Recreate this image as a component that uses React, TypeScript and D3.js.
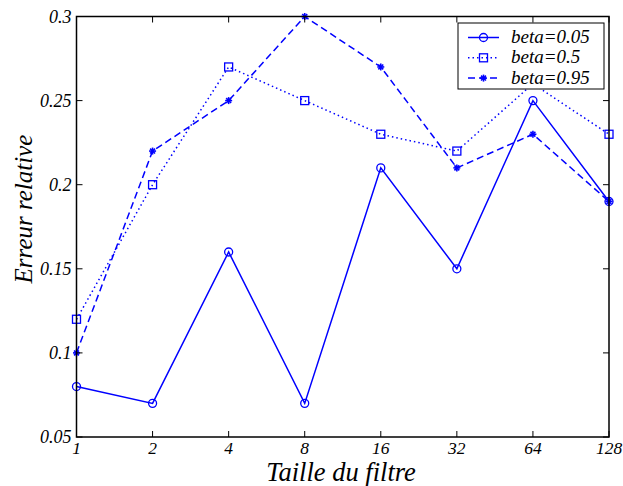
import React from "react";
import * as d3 from "d3";

const categories = ["1", "2", "4", "8", "16", "32", "64", "128"];
const beta005 = [0.08, 0.07, 0.16, 0.07, 0.21, 0.15, 0.25, 0.19];
const beta05 = [0.12, 0.2, 0.27, 0.25, 0.23, 0.22, 0.26, 0.23];
const beta095 = [0.1, 0.22, 0.25, 0.3, 0.27, 0.21, 0.23, 0.19];
const yTicks = [0.05, 0.1, 0.15, 0.2, 0.25, 0.3];
const yTickLabels = ["0.05", "0.1", "0.15", "0.2", "0.25", "0.3"];
const seriesNames = ["beta=0.05", "beta=0.5", "beta=0.95"];

const W = 623, H = 486;
const L = 76.5, R = 609, T = 16.5, B = 437;
const BLUE = "#0000ff";
const FONT = "'Liberation Serif', 'Times New Roman', serif";

export default function App() {
  const x = d3.scalePoint<string>().domain(categories).range([L, R]);
  const y = d3.scaleLinear().domain([0.05, 0.3]).range([B, T]);
  const line = (vals: number[]) =>
    d3.line<number>().x((_, i) => x(categories[i])!).y((v) => y(v))(vals)!;

  const series = [
    { name: seriesNames[0], vals: beta005, dash: "none", marker: "circle" },
    { name: seriesNames[1], vals: beta05, dash: "1.5 3", marker: "square" },
    { name: seriesNames[2], vals: beta095, dash: "7 4", marker: "star" },
  ];

  const marker = (m: string, cx: number, cy: number, key: any) => {
    if (m === "circle")
      return <circle key={key} cx={cx} cy={cy} r={4} fill="none" stroke={BLUE} strokeWidth={1.3} />;
    if (m === "square")
      return <rect key={key} x={cx - 4} y={cy - 4} width={8} height={8} fill="none" stroke={BLUE} strokeWidth={1.3} />;
    const s = 3.5;
    return (
      <g key={key} stroke={BLUE} strokeWidth={1.6}>
        <line x1={cx - s} y1={cy} x2={cx + s} y2={cy} />
        <line x1={cx} y1={cy - s} x2={cx} y2={cy + s} />
        <line x1={cx - s * 0.7} y1={cy - s * 0.7} x2={cx + s * 0.7} y2={cy + s * 0.7} />
        <line x1={cx - s * 0.7} y1={cy + s * 0.7} x2={cx + s * 0.7} y2={cy - s * 0.7} />
      </g>
    );
  };

  const lx = 458, ly = 23, lw = 146, lh = 66;

  return (
    <svg width={W} height={H} style={{ position: "absolute", left: 0, top: 0, background: "#fff" }}>
      <rect x={0} y={0} width={W} height={H} fill="#fff" />
      {series.map((s, si) => (
        <g key={si}>
          <path d={line(s.vals)} fill="none" stroke={BLUE} strokeWidth={1.5} strokeDasharray={s.dash} />
          {s.vals.map((v, i) => marker(s.marker, x(categories[i])!, y(v), i))}
        </g>
      ))}
      <rect x={L} y={T} width={R - L} height={B - T} fill="none" stroke="#000" strokeWidth={1.5} />
      {categories.map((c) => (
        <g key={c}>
          <line x1={x(c)} x2={x(c)} y1={B} y2={B - 6} stroke="#000" strokeWidth={1} />
          <line x1={x(c)} x2={x(c)} y1={T} y2={T + 6} stroke="#000" strokeWidth={1} />
          <text x={x(c)} y={B + 17} textAnchor="middle" fontFamily={FONT} fontStyle="italic" fontSize={17.5}>{c}</text>
        </g>
      ))}
      {yTicks.map((t, i) => (
        <g key={t}>
          <line x1={L} x2={L + 6} y1={y(t)} y2={y(t)} stroke="#000" strokeWidth={1} />
          <line x1={R} x2={R - 6} y1={y(t)} y2={y(t)} stroke="#000" strokeWidth={1} />
          <text x={L - 5} y={y(t) + 6} textAnchor="end" fontFamily={FONT} fontStyle="italic" fontSize={18}>{yTickLabels[i]}</text>
        </g>
      ))}
      <text x={341} y={481} textAnchor="middle" fontFamily={FONT} fontStyle="italic" fontSize={26.5}>Taille du filtre</text>
      <text transform={`translate(32, 209) rotate(-90)`} textAnchor="middle" fontFamily={FONT} fontStyle="italic" fontSize={25}>Erreur relative</text>
      <rect x={lx} y={ly} width={lw} height={lh} fill="#fff" stroke="#000" strokeWidth={1} />
      {series.map((s, i) => {
        const yy = 37.5 + i * 20.3;
        return (
          <g key={i}>
            <line x1={468} x2={499} y1={yy} y2={yy} stroke={BLUE} strokeWidth={1.5} strokeDasharray={s.dash} />
            {marker(s.marker, 483.5, yy, "m")}
            <text x={511} y={yy + 5.5} fontFamily={FONT} fontStyle="italic" fontSize={19}>{s.name}</text>
          </g>
        );
      })}
    </svg>
  );
}
